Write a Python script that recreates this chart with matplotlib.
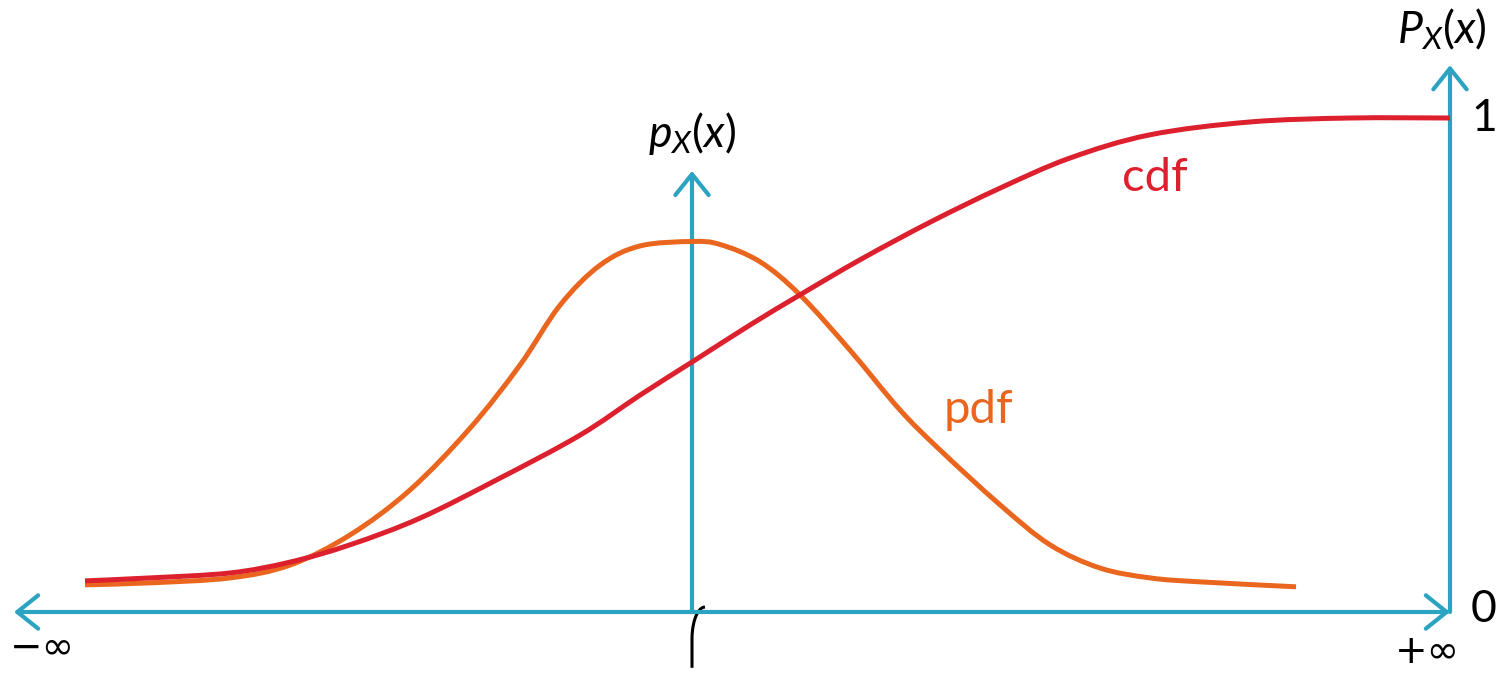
import matplotlib.pyplot as plt
from matplotlib.path import Path
from matplotlib.patches import PathPatch
import numpy as np

# pdf curve (x in arbitrary units, 0 at the centre axis)
pdf_x = [-6.07, -5.42, -4.62, -4.02, -3.42, -2.82, -2.22, -1.72, -1.32, -0.92, -0.52,
         0.0, 0.28, 0.68, 1.08, 1.58, 2.08, 2.48, 3.08, 3.58, 4.08, 4.58, 5.08, 6.04]
pdf_y = [0.055, 0.059, 0.069, 0.095, 0.156, 0.247, 0.372, 0.500, 0.621, 0.702, 0.741,
         0.750, 0.744, 0.709, 0.642, 0.530, 0.409, 0.328, 0.217, 0.136, 0.089, 0.069, 0.061, 0.051]

# cdf curve
cdf_x = [-6.07, -5.42, -4.62, -4.02, -3.42, -2.72, -1.92, -1.12, -0.52, 0.0, 0.58,
         1.08, 1.68, 2.38, 3.08, 3.78, 4.58, 5.58, 6.58, 7.58]
cdf_y = [0.063, 0.069, 0.079, 0.101, 0.136, 0.190, 0.271, 0.358, 0.439, 0.506, 0.581,
         0.642, 0.713, 0.789, 0.858, 0.919, 0.966, 0.992, 1.0, 1.0]

blue = '#2ba3c1'
red = '#dd202e'
orange = '#ea661f'

plt.rcParams['mathtext.fontset'] = 'custom'
plt.rcParams['mathtext.it'] = 'Lato:italic'
plt.rcParams['mathtext.rm'] = 'Lato'


def smooth_path(xs, ys):
    # catmull-rom through the points, drawn as cubic bezier segments
    pts = np.column_stack([xs, ys])
    ext = np.vstack([pts[0], pts, pts[-1]])
    verts = [pts[0]]
    codes = [Path.MOVETO]
    for i in range(1, len(ext) - 2):
        p0, p1, p2, p3 = ext[i - 1], ext[i], ext[i + 1], ext[i + 2]
        verts += [p1 + (p2 - p0) / 6, p2 - (p3 - p1) / 6, p2]
        codes += [Path.CURVE4] * 3
    return Path(verts, codes)


fig = plt.figure(figsize=(14.99, 6.73), dpi=100)
ax = fig.add_axes([0, 0, 1, 1])
ax.set_xlim(-6.92, 8.07)
ax.set_ylim(-0.1235, 1.2389)
ax.axis('off')

x_left, x_right = -6.78, 7.58
arrow = dict(arrowstyle='->,head_length=0.75,head_width=0.6', color=blue, lw=3.0,
             mutation_scale=20, shrinkA=0, shrinkB=0, capstyle='round', joinstyle='round')

# horizontal axis, arrows on both ends
ax.annotate('', xy=(x_left, 0), xytext=(0, 0), arrowprops=arrow)
ax.annotate('', xy=(x_right, 0), xytext=(0, 0), arrowprops=arrow)
# centre axis for pdf
ax.annotate('', xy=(0, 0.893), xytext=(0, 0), arrowprops=arrow)
# right axis for cdf
ax.annotate('', xy=(x_right, 1.107), xytext=(x_right, 0), arrowprops=arrow)

ax.add_patch(PathPatch(smooth_path(pdf_x, pdf_y), fill=False, edgecolor=orange, lw=3.6,
                       capstyle='butt', joinstyle='round', zorder=3))
ax.add_patch(PathPatch(smooth_path(cdf_x, cdf_y), fill=False, edgecolor=red, lw=3.6,
                       capstyle='butt', joinstyle='round', zorder=4))

# small hook under the centre axis
t = np.linspace(0, np.pi / 2, 20)
hook_x = np.concatenate([[0, 0], 0.13 * (1 - np.cos(t))])
hook_y = np.concatenate([[-0.113, -0.055], -0.055 + 0.065 * np.sin(t)])
ax.plot(hook_x, hook_y, color='black', lw=2.2, solid_capstyle='butt')

fs = 32
ax.text(0, 0.968, r'$p_X(x)$', ha='center', va='center', fontsize=fs)
ax.text(7.50, 1.180, r'$P_X(x)$', ha='center', va='center', fontsize=fs)
ax.text(7.92, 1.0, '1', ha='center', va='center', fontsize=fs, family='Lato')
ax.text(7.92, 0.006, '0', ha='center', va='center', fontsize=fs, family='Lato')
ax.text(-6.50, -0.072, '−∞', ha='center', va='center', fontsize=28, family='DejaVu Sans')
ax.text(7.35, -0.082, '+∞', ha='center', va='center', fontsize=28, family='DejaVu Sans')
ax.text(4.63, 0.878, 'cdf', ha='center', va='center', fontsize=34, color=red, family='Lato')
ax.text(2.86, 0.409, 'pdf', ha='center', va='center', fontsize=34, color=orange, family='Lato')

fig.savefig('out.png', dpi=100)
